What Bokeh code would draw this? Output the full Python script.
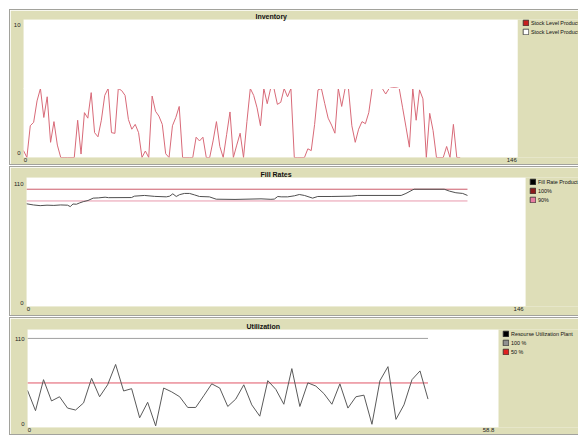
from bokeh.plotting import figure
from bokeh.models import (Range1d, FixedTicker, Legend, LegendItem, CustomJSTickFormatter,
                          BoxAnnotation)
from bokeh.embed import file_html
from bokeh.resources import INLINE

# ---------------- data ----------------
inv_t = list(range(130))
inv_v = [0.5, 0, 2.3, 2.55, 4.1, 5, 2.9, 4.4, 1.1, 2.6,
         0.9, 0, 0, 0, 0, 0, 2.7, 0.25, 3.25, 2.85,
         4.7, 1.8, 1.5, 2.7, 4.5, 5, 1.8, 1.75, 5, 4.85,
         4.5, 2.75, 2.05, 2.4, 1.8, 0, 0.47, 0, 4.45, 3.35,
         3.0, 2.4, 0.27, 0, 2.3, 2.9, 3.7, 0, 0, 0,
         0, 1.47, 1.2, 1.47, 0, 0, 1.2, 2.6, 0.8, 0,
         1.65, 3.3, 0, 0.9, 1.76, 0, 2.6, 5, 4.5, 3.6,
         2.3, 5, 3.9, 5, 5, 3.85, 4.0, 5, 4.4, 5,
         0, 0, 0, 0, 0.63, 0.5, 2.4, 4.9, 5, 3.9,
         2.85, 2.35, 1.76, 5, 3.7, 5, 5, 2.3, 1.1, 2.05,
         2.6, 2.45, 3.25, 5, 5, 5, 5, 4.6, 5, 5.05,
         5.05, 5, 3.6, 2.2, 0.75, 5, 2.7, 4.9, 4.25, 0,
         3.2, 1.95, 0, 0, 0, 0.8, 0, 2.4, 0, 0]
stock2_t = [0, 129]
stock2_v = [5, 5]

fill_t = [0, 2, 4, 6, 8, 10, 12, 12.8, 13.6, 14.6, 15.6, 16.6, 18, 19.5, 21, 23, 24,
          30.7, 31.6, 34.5, 37.5, 40.9, 41.9, 42.8, 43.8, 44.8, 46.2, 47.7, 49.1, 50.6,
          53.5, 55.5, 61, 68.6, 71.5, 72.5, 73.5, 74.5, 76.4, 78.4, 79.8, 81.3, 83.7,
          85.2, 89.1, 95.0, 96.9, 109.6, 111.0, 113.0, 113.4, 122.2, 123.7, 125.6, 127.6, 129.0]
fill_v = [87.6, 86.6, 86.0, 86.4, 86.2, 86.6, 86.4, 85.2, 87.4, 87.2, 88.4, 89.4, 90.4, 92.4,
          92.6, 93.2, 92.8, 92.9, 94.1, 94.7, 93.9, 93.5, 94.1, 96.1, 93.8, 95.4, 96.4, 96.4,
          95.2, 93.8, 93.5, 91.5, 91.3, 91.8, 91.4, 91.6, 93.8, 93.5, 93.5, 94.4, 95.5, 94.7,
          92.4, 93.8, 93.8, 94.1, 94.7, 94.7, 96.4, 99.5, 100, 100, 98.4, 97.0, 96.4, 94.7]
fill_ref_t = [0, 129]
fill_100 = [100, 100]
fill_90 = [90, 90]

util_t = list(range(51))
util_v = [41.7, 18.9, 53.7, 29.8, 34.5, 21.8, 19.6, 27.6, 55.2, 34.5,
          47.9, 70.8, 41.0, 43.6, 10.9, 28.3, 1.8, 44.3, 40.0, 34.5,
          22.5, 22.5, 35.6, 49.0, 44.3, 23.6, 31.9, 47.9, 25.4, 12.7,
          52.6, 42.8, 26.1, 66.1, 23.6, 50.1, 46.5, 38.1, 26.1, 49.0,
          21.8, 34.5, 36.3, 3.6, 52.6, 68.3, 9.1, 25.4, 53.7, 63.5,
          31.9]
util_ref_t = [0, 50]
util_100 = [100, 100]
util_50 = [50, 50]

titles = ["Inventory", "Fill Rates", "Utilization"]
inv_labels = ["Stock Level Product", "Stock Level Product"]
fill_labels = ["Fill Rate Product", "100%", "90%"]
util_labels = ["Resourse Utilization Plant", "100 %", "50 %"]
x_max = [146, 146, 58.8]
y_max = [10, 110, 110]
x_tick_labels = [["0", "146"], ["0", "146"], ["0", "58.8"]]
y_tick_labels = [["0", "10"], ["0", "110"], ["0", "110"]]

# ---------------- style ----------------
BEIGE = "#dedeb8"
FONT = "Liberation Sans"
FIG_W = 568
NAN = float("nan")


def label_fmt(lo, hi, mid):
    return CustomJSTickFormatter(
        code="return tick < %r ? %r : %r;" % (mid, lo, hi))


def panel(idx, title_off, height, mtop, left, top, bottom, plot_w, frame_h, nudges):
    # nudges: label insets in px (x0, x1, y0, y1), as the labels sit inside the plot corners
    xmax, ymax = x_max[idx], y_max[idx]
    frame_w = FIG_W - left
    x_end = xmax * frame_w / plot_w
    xpx = plot_w / xmax
    ypx = frame_h / ymax
    p = figure(width=FIG_W, height=height, x_range=Range1d(0, x_end), y_range=Range1d(0, ymax),
               output_backend="svg", toolbar_location=None, tools="",
               min_border_left=left, min_border_right=0,
               min_border_top=top, min_border_bottom=bottom,
               background_fill_color=BEIGE, border_fill_color=BEIGE,
               outline_line_color=None)
    p.margin = (mtop, 0, 0, 10)
    p.styles = {"box-shadow": "0 0 0 1px #a2a29c"}
    p.add_layout(BoxAnnotation(left=0, right=xmax, bottom=0, top=ymax,
                               fill_color="white", fill_alpha=1, line_color=None,
                               level="underlay"))
    p.title.text = titles[idx]
    p.title.align = "left"
    p.title.offset = title_off
    p.title.text_font = FONT
    p.title.text_font_size = "7px"
    p.title.text_font_style = "bold"
    p.title.text_color = "#111111"
    p.title.standoff = 0
    p.grid.visible = False
    for ax in (p.xaxis[0], p.yaxis[0]):
        ax.axis_line_color = None
        ax.major_tick_line_color = None
        ax.minor_tick_line_color = None
        ax.major_tick_out = 0
        ax.major_tick_in = 0
        ax.minor_tick_out = 0
        ax.minor_tick_in = 0
        ax.major_label_text_font = FONT
        ax.major_label_text_font_size = "6px"
        ax.major_label_text_color = "#222222"
    nx0, nx1, ny0, ny1 = nudges
    p.xaxis[0].ticker = FixedTicker(ticks=[nx0 / xpx, xmax - nx1 / xpx])
    p.yaxis[0].ticker = FixedTicker(ticks=[ny0 / ypx, ymax - ny1 / ypx])
    p.xaxis[0].formatter = label_fmt(x_tick_labels[idx][0], x_tick_labels[idx][1], xmax / 2)
    p.yaxis[0].formatter = label_fmt(y_tick_labels[idx][0], y_tick_labels[idx][1], ymax / 2)
    p.xaxis[0].major_label_standoff = 0
    p.yaxis[0].major_label_standoff = 3
    return p


def add_legend(p, labels, colors, x, top_off, frame_h):
    items = []
    for lab, col in zip(labels, colors):
        r = p.quad(left=[NAN], right=[NAN], top=[NAN], bottom=[NAN], fill_color=col,
                   line_color="#303030", line_width=0.8)
        items.append(LegendItem(label=lab, renderers=[r]))
    n = len(items)
    lh = n * 7 + (n - 1) * 2
    leg = Legend(items=items, location=(x, frame_h - top_off - lh),
                 padding=0, margin=0, spacing=2, glyph_width=7, glyph_height=7,
                 label_height=7, label_standoff=2, label_text_font=FONT,
                 label_text_font_size="5.4px", label_text_color="#111111",
                 background_fill_alpha=0, border_line_alpha=0)
    p.add_layout(leg)


# Inventory: page frame 21..517 x 19..157
p1 = panel(0, 232, 154, 10, 11, 9, 7, 496, 138, (2, 6, 5, 5))
p1.line(inv_t, inv_v, line_color="#d86a78", line_width=1)
p1.line(stock2_t, stock2_v, line_color="#ffffff", line_width=1.2)
add_legend(p1, inv_labels, ["#c81e1e", "#ffffff"], 499, 0, 138)

# Fill rates: page frame 25..525 x 177..306
p2 = panel(1, 234, 148, 3, 15, 10, 9, 500, 129, (2, 7, 4, 6))
p2.line(fill_ref_t, fill_100, line_color="#cc5a6a", line_width=1)
p2.line(fill_ref_t, fill_90, line_color="#e898ac", line_width=1)
p2.line(fill_t, fill_v, line_color="#4f4f4f", line_width=1)
add_legend(p2, fill_labels, ["#000000", "#8b1a1a", "#e87ca0"], 503, 1, 129)

# Utilization: page frame 27..498 x 329..430
p3 = panel(2, 219, 116, 3, 17, 11, 7, 471, 98, (2, 10, 4, 9))
p3.line(util_ref_t, util_100, line_color="#a0a0a0", line_width=1)
p3.line(util_ref_t, util_50, line_color="#e05565", line_width=1)
p3.line(util_t, util_v, line_color="#5a5a5a", line_width=1)
add_legend(p3, util_labels, ["#000000", "#909090", "#e02020"], 475, 1, 98)

open("out.html", "w").write(file_html([p1, p2, p3], INLINE))
